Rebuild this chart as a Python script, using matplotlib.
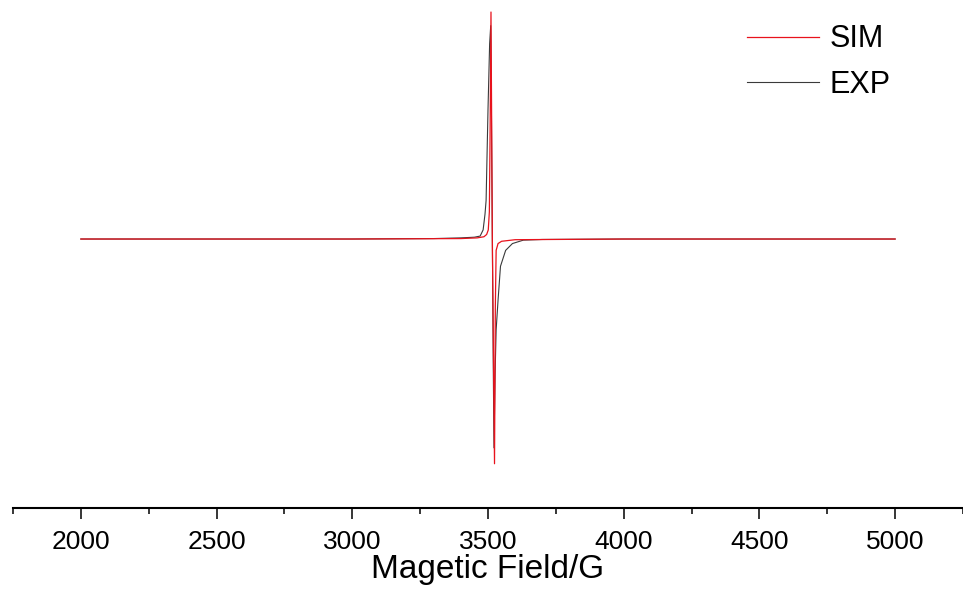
import numpy as np
import matplotlib
matplotlib.use('Agg')
import matplotlib.pyplot as plt

plt.rcParams['font.family'] = ['Liberation Sans', 'DejaVu Sans']

''' DATA (read off the reference spectrum) '''
# Experimental spectrum: field in G, signal in arbitrary units
exp_field = [2000, 2500, 3000, 3300, 3400, 3450, 3471, 3482, 3489, 3493, 3500,
             3506, 3510, 3513, 3516, 3519, 3522, 3526, 3530, 3537, 3546, 3565,
             3590, 3630, 3700, 4000, 4500, 5000]
exp_signal = [0, 0, 0, 0.002, 0.005, 0.008, 0.013, 0.04, 0.11, 0.17, 0.57,
              0.86, 0.94, 0.5, 0.0, -0.5, -0.92, -0.6, -0.4, -0.27, -0.12, -0.05,
              -0.02, -0.005, -0.002, 0, 0, 0]

# Simulated spectrum
sim_field = [2000, 2500, 3000, 3400, 3460, 3485, 3495, 3501, 3505, 3508, 3511,
             3516, 3520, 3524, 3527, 3530, 3537, 3550, 3600, 4000, 4500, 5000]
sim_signal = [0, 0, 0, 0.002, 0.005, 0.01, 0.02, 0.04, 0.12, 0.5, 1.0,
              0.0, -0.5, -0.99, -0.3, -0.05, -0.02, -0.01, -0.003, 0, 0, 0]

major_ticks = [2000, 2500, 3000, 3500, 4000, 4500, 5000]

''' PLOT '''
fig = plt.figure(figsize=(9.63, 5.92), dpi=100)
ax = fig.add_axes([13 / 963, 84 / 592, 950 / 963, 508 / 592])

ax.plot(exp_field, exp_signal, color='#3a3a3a', lw=0.8, label='EXP')
ax.plot(sim_field, sim_signal, color='#e8121c', lw=0.9, label='SIM')

ax.set_xlim(1750, 5215)
ax.set_ylim(-1.185, 1.053)

# only the bottom axis is shown
for side in ['top', 'left', 'right']:
    ax.spines[side].set_visible(False)
ax.spines['bottom'].set_linewidth(1.5)
ax.set_yticks([])

ax.set_xticks(major_ticks)
ax.set_xticks(np.arange(1750, 5251, 500), minor=True)
ax.tick_params(axis='x', which='major', length=8, width=1.1, labelsize=19, pad=8)
ax.tick_params(axis='x', which='minor', length=4, width=1.1)
ax.set_xlabel('Magetic Field/G', fontsize=24, labelpad=0)

# legend, SIM first
handles, labels = ax.get_legend_handles_labels()
ax.legend(handles[::-1], labels[::-1], loc='upper left',
          bbox_to_anchor=(722 / 950, 1.0 - 12 / 508), bbox_transform=ax.transAxes,
          frameon=False, fontsize=22, handlelength=2.35, handletextpad=0.35,
          labelspacing=0.52, borderaxespad=0.0)

fig.savefig('out.png', dpi=100)
